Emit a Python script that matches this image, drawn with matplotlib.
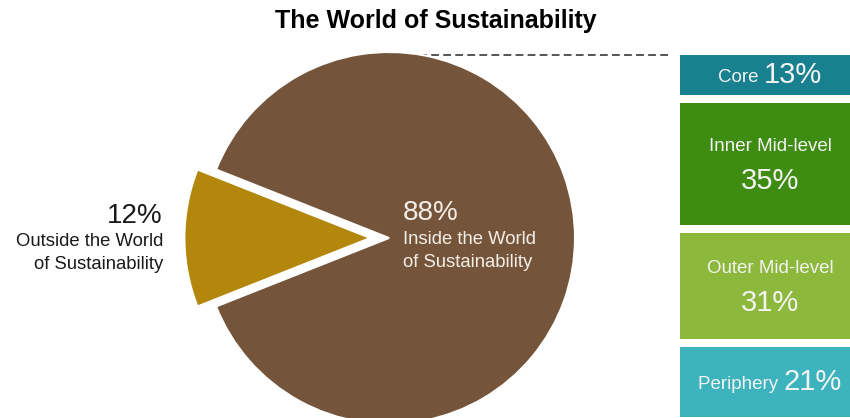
import matplotlib
matplotlib.use("Agg")
import matplotlib.pyplot as plt
import numpy as np

plt.rcParams['font.family'] = ['Liberation Sans', 'DejaVu Sans']

# ---- data ----
title = "The World of Sustainability"
pie_labels = ["Outside the World\nof Sustainability", "Inside the World\nof Sustainability"]
pie_values = [12, 88]
pie_colors = ["#b3870c", "#74553b"]

seg_names = ["Core", "Inner Mid-level", "Outer Mid-level", "Periphery"]
seg_values = [13, 35, 31, 21]
seg_colors = ["#18808e", "#3f8c13", "#8cb83b", "#3cb3bd"]
seg_inline = [True, False, False, True]

W, H = 850, 418
fig = plt.figure(figsize=(W / 100, H / 100), dpi=100)
ax = fig.add_axes([0, 0, 1, 1])

def Y(y):
    return H - y

# pie (explode is in data units for a scaled pie)
cx, cy, r = 389, 238, 186
ax.pie(pie_values, colors=pie_colors, startangle=180 - pie_values[0] * 3.6 / 2,
       explode=[0.10 * r, 0], center=(cx, Y(cy)), radius=r, counterclock=True,
       wedgeprops=dict(linewidth=1.5, edgecolor="white"), frame=True)

# dashed connector
ax.plot([395, 672], [Y(55), Y(55)], ls=(0, (4, 2.2)), color="#555555", lw=1.4, zorder=0)

# stacked boxes
scale = 3.7
gap = 8
top0 = 55
cum = 0
for name, v, c, inline in zip(seg_names, seg_values, seg_colors, seg_inline):
    top = top0 + cum * scale
    h = v * scale - gap
    ax.bar(770, h, width=180, bottom=Y(top + h), color=c, edgecolor="none")
    ymid = top + h / 2
    txt = f"{v}%"
    if inline:
        t1 = ax.text(0, Y(ymid), name + " ", fontsize=13.5, color="#f3f3f3", ha="left", va="center")
        t2 = ax.text(0, Y(ymid), txt, fontsize=21, color="#f3f3f3", ha="left", va="center")
        fig.canvas.draw()
        rend = fig.canvas.get_renderer()
        w1 = t1.get_window_extent(rend).width
        w2 = t2.get_window_extent(rend).width
        x0 = 770 - (w1 + w2) / 2
        t1.set_x(x0)
        t2.set_x(x0 + w1)
        t1.set_y(Y(ymid + 2.5))
        t2.set_y(Y(ymid))
    else:
        ax.text(770, Y(ymid - 17), name, fontsize=13.5, color="#f3f3f3", ha="center", va="center")
        ax.text(770, Y(ymid + 17), txt, fontsize=21, color="#f3f3f3", ha="center", va="center")
    cum += v

# pie labels
ax.text(163, Y(216), f"{pie_values[0]}%", fontsize=20, color="#1a1a1a", ha="right", va="center")
ax.text(163, Y(253), pie_labels[0], fontsize=13.3, color="#1a1a1a", ha="right", va="center",
        linespacing=1.4)
ax.text(403, Y(213), f"{pie_values[1]}%", fontsize=20, color="#f4eee8", ha="left", va="center")
ax.text(403, Y(251), pie_labels[1], fontsize=13.3, color="#f4eee8", ha="left", va="center",
        linespacing=1.4)

ax.text(436, Y(21), title, fontsize=18, fontweight="bold", color="black", ha="center", va="center")

ax.set_xlim(0, W)
ax.set_ylim(0, H)
ax.set_aspect("auto")
ax.axis("off")
fig.savefig("out.png", dpi=100)
